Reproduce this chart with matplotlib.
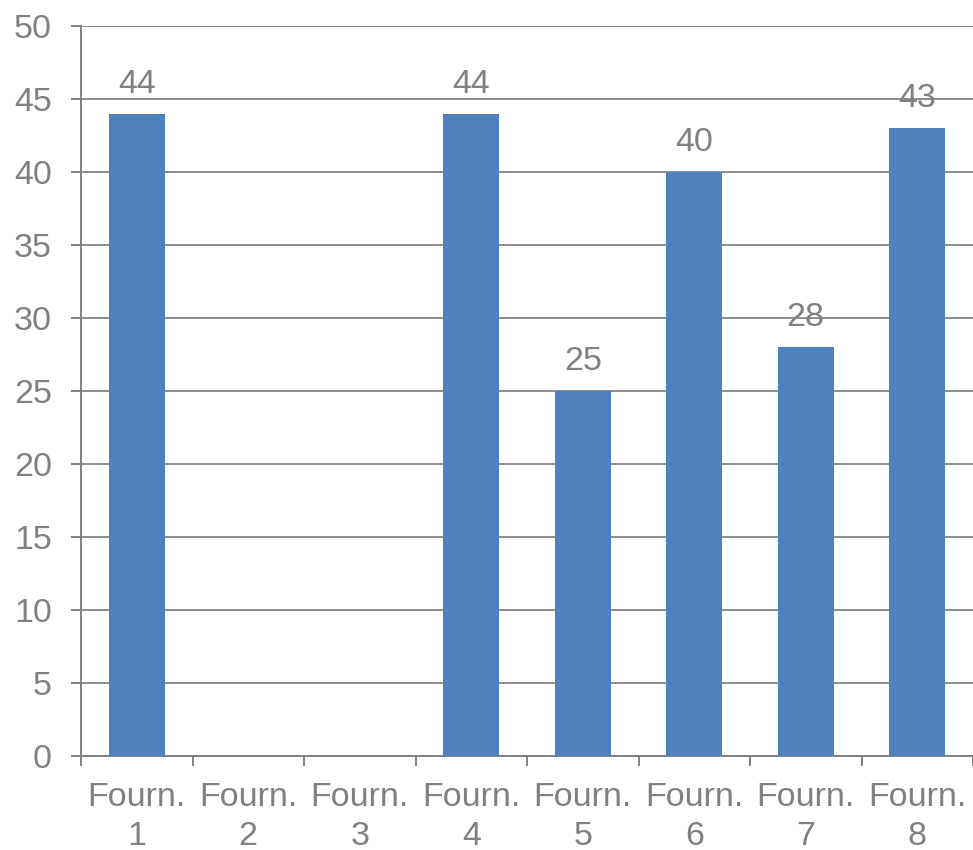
import matplotlib.pyplot as plt
import numpy as np

plt.rcParams['font.family'] = ['Liberation Sans', 'DejaVu Sans']

# supplier counts (Fourn. 2 and 3 have no value)
suppliers = ["Fourn.\n1", "Fourn.\n2", "Fourn.\n3", "Fourn.\n4",
             "Fourn.\n5", "Fourn.\n6", "Fourn.\n7", "Fourn.\n8"]
counts = [44, None, None, 44, 25, 40, 28, 43]
yticks = list(range(0, 55, 5))

grey = "#808080"
blue = "#4F81BD"

fig = plt.figure(figsize=(9.73, 8.5), dpi=100)
ax = fig.add_axes([81 / 973, 94 / 850, 892 / 973, 730 / 850])

x = np.arange(len(suppliers))
heights = [np.nan if c is None else c for c in counts]
ax.bar(x, heights, width=0.5, color=blue, zorder=3)

for xi, c in zip(x, counts):
    if c is None:
        continue
    ax.annotate(str(c), (xi, c), xytext=(0, 10), textcoords="offset points",
                ha="center", va="bottom", fontsize=24.5, color=grey, zorder=4)

ax.set_xlim(-0.5, len(suppliers) - 0.5)
ax.set_ylim(0, 50)
ax.set_yticks(yticks)
ax.yaxis.grid(True, color="#8c8c8c", linewidth=1.4, zorder=0)
ax.set_axisbelow(True)

# category labels sit between boundary ticks
ax.set_xticks(np.arange(len(suppliers) + 1) - 0.5)
ax.set_xticklabels([])
ax.set_xticks(x, minor=True)
ax.set_xticklabels(suppliers, minor=True, fontsize=24.5, color=grey,
                   linespacing=1.3)
ax.tick_params(axis="x", which="minor", length=0, pad=19)
ax.tick_params(axis="x", which="major", length=7, width=1.4, color=grey)
ax.tick_params(axis="y", length=7, width=1.4, color=grey, labelsize=24.5,
               labelcolor=grey, pad=14)

for side in ["top", "right"]:
    ax.spines[side].set_visible(False)
for side in ["left", "bottom"]:
    ax.spines[side].set_color(grey)
    ax.spines[side].set_linewidth(1.4)

fig.savefig("out.png", dpi=100)
